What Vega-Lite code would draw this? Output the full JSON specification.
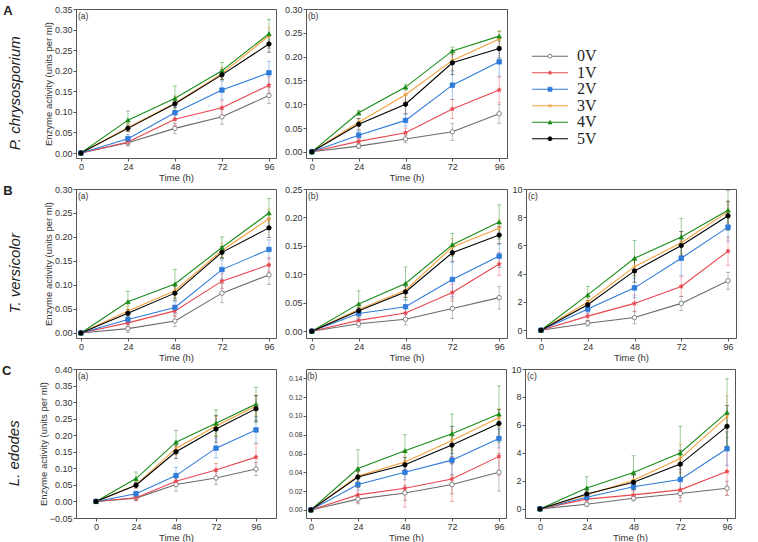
{
"$schema":"https://vega.github.io/schema/vega-lite/v6.json",
"background":"white",
"padding":{"left":1,"top":4,"right":0,"bottom":0},
"config":{
 "view":{"stroke":"#555","strokeWidth":1},
 "axis":{"grid":false,"domain":false,"tickSize":3,"tickColor":"#555","labelFont":"Liberation Sans","labelFontSize":9,"labelColor":"#333","titleFont":"Liberation Sans","titleFontSize":9.5,"titleFontWeight":"normal","titleColor":"#333","labelFlush":false,"labelPadding":1,"titlePadding":1},
 "title":{"font":"Liberation Sans","fontWeight":"normal","color":"#222"}
},
"datasets":{"d":[
{"p":"Aa","s":"0V","t":0,"v":0,"e":0},{"p":"Aa","s":"0V","t":24,"v":0.025,"e":0.008},{"p":"Aa","s":"0V","t":48,"v":0.06,"e":0.012},{"p":"Aa","s":"0V","t":72,"v":0.088,"e":0.018},{"p":"Aa","s":"0V","t":96,"v":0.14,"e":0.02},
{"p":"Aa","s":"1V","t":0,"v":0,"e":0},{"p":"Aa","s":"1V","t":24,"v":0.027,"e":0.008},{"p":"Aa","s":"1V","t":48,"v":0.082,"e":0.015},{"p":"Aa","s":"1V","t":72,"v":0.11,"e":0.018},{"p":"Aa","s":"1V","t":96,"v":0.165,"e":0.02},
{"p":"Aa","s":"2V","t":0,"v":0,"e":0},{"p":"Aa","s":"2V","t":24,"v":0.035,"e":0.01},{"p":"Aa","s":"2V","t":48,"v":0.098,"e":0.015},{"p":"Aa","s":"2V","t":72,"v":0.153,"e":0.022},{"p":"Aa","s":"2V","t":96,"v":0.195,"e":0.028},
{"p":"Aa","s":"3V","t":0,"v":0,"e":0},{"p":"Aa","s":"3V","t":24,"v":0.062,"e":0.01},{"p":"Aa","s":"3V","t":48,"v":0.121,"e":0.018},{"p":"Aa","s":"3V","t":72,"v":0.193,"e":0.015},{"p":"Aa","s":"3V","t":96,"v":0.285,"e":0.02},
{"p":"Aa","s":"4V","t":0,"v":0,"e":0},{"p":"Aa","s":"4V","t":24,"v":0.08,"e":0.022},{"p":"Aa","s":"4V","t":48,"v":0.133,"e":0.03},{"p":"Aa","s":"4V","t":72,"v":0.2,"e":0.02},{"p":"Aa","s":"4V","t":96,"v":0.29,"e":0.035},
{"p":"Aa","s":"5V","t":0,"v":0,"e":0},{"p":"Aa","s":"5V","t":24,"v":0.06,"e":0.008},{"p":"Aa","s":"5V","t":48,"v":0.12,"e":0.01},{"p":"Aa","s":"5V","t":72,"v":0.19,"e":0.012},{"p":"Aa","s":"5V","t":96,"v":0.265,"e":0.02},

{"p":"Ab","s":"0V","t":0,"v":0,"e":0},{"p":"Ab","s":"0V","t":24,"v":0.012,"e":0.005},{"p":"Ab","s":"0V","t":48,"v":0.027,"e":0.008},{"p":"Ab","s":"0V","t":72,"v":0.042,"e":0.018},{"p":"Ab","s":"0V","t":96,"v":0.08,"e":0.02},
{"p":"Ab","s":"1V","t":0,"v":0,"e":0},{"p":"Ab","s":"1V","t":24,"v":0.022,"e":0.006},{"p":"Ab","s":"1V","t":48,"v":0.04,"e":0.01},{"p":"Ab","s":"1V","t":72,"v":0.09,"e":0.02},{"p":"Ab","s":"1V","t":96,"v":0.13,"e":0.027},
{"p":"Ab","s":"2V","t":0,"v":0,"e":0},{"p":"Ab","s":"2V","t":24,"v":0.035,"e":0.008},{"p":"Ab","s":"2V","t":48,"v":0.066,"e":0.012},{"p":"Ab","s":"2V","t":72,"v":0.14,"e":0.03},{"p":"Ab","s":"2V","t":96,"v":0.189,"e":0.03},
{"p":"Ab","s":"3V","t":0,"v":0,"e":0},{"p":"Ab","s":"3V","t":24,"v":0.062,"e":0.008},{"p":"Ab","s":"3V","t":48,"v":0.12,"e":0.012},{"p":"Ab","s":"3V","t":72,"v":0.192,"e":0.02},{"p":"Ab","s":"3V","t":96,"v":0.237,"e":0.018},
{"p":"Ab","s":"4V","t":0,"v":0,"e":0},{"p":"Ab","s":"4V","t":24,"v":0.082,"e":0.005},{"p":"Ab","s":"4V","t":48,"v":0.136,"e":0.006},{"p":"Ab","s":"4V","t":72,"v":0.212,"e":0.008},{"p":"Ab","s":"4V","t":96,"v":0.243,"e":0.01},
{"p":"Ab","s":"5V","t":0,"v":0,"e":0},{"p":"Ab","s":"5V","t":24,"v":0.058,"e":0.012},{"p":"Ab","s":"5V","t":48,"v":0.1,"e":0.02},{"p":"Ab","s":"5V","t":72,"v":0.187,"e":0.025},{"p":"Ab","s":"5V","t":96,"v":0.217,"e":0.02},

{"p":"Ba","s":"0V","t":0,"v":0,"e":0},{"p":"Ba","s":"0V","t":24,"v":0.009,"e":0.008},{"p":"Ba","s":"0V","t":48,"v":0.025,"e":0.012},{"p":"Ba","s":"0V","t":72,"v":0.083,"e":0.02},{"p":"Ba","s":"0V","t":96,"v":0.121,"e":0.02},
{"p":"Ba","s":"1V","t":0,"v":0,"e":0},{"p":"Ba","s":"1V","t":24,"v":0.021,"e":0.008},{"p":"Ba","s":"1V","t":48,"v":0.046,"e":0.012},{"p":"Ba","s":"1V","t":72,"v":0.108,"e":0.015},{"p":"Ba","s":"1V","t":96,"v":0.142,"e":0.015},
{"p":"Ba","s":"2V","t":0,"v":0,"e":0},{"p":"Ba","s":"2V","t":24,"v":0.028,"e":0.008},{"p":"Ba","s":"2V","t":48,"v":0.053,"e":0.012},{"p":"Ba","s":"2V","t":72,"v":0.132,"e":0.02},{"p":"Ba","s":"2V","t":96,"v":0.174,"e":0.02},
{"p":"Ba","s":"3V","t":0,"v":0,"e":0},{"p":"Ba","s":"3V","t":24,"v":0.046,"e":0.01},{"p":"Ba","s":"3V","t":48,"v":0.088,"e":0.015},{"p":"Ba","s":"3V","t":72,"v":0.172,"e":0.015},{"p":"Ba","s":"3V","t":96,"v":0.238,"e":0.02},
{"p":"Ba","s":"4V","t":0,"v":0,"e":0},{"p":"Ba","s":"4V","t":24,"v":0.065,"e":0.022},{"p":"Ba","s":"4V","t":48,"v":0.102,"e":0.03},{"p":"Ba","s":"4V","t":72,"v":0.178,"e":0.022},{"p":"Ba","s":"4V","t":96,"v":0.25,"e":0.03},
{"p":"Ba","s":"5V","t":0,"v":0,"e":0},{"p":"Ba","s":"5V","t":24,"v":0.041,"e":0.008},{"p":"Ba","s":"5V","t":48,"v":0.083,"e":0.015},{"p":"Ba","s":"5V","t":72,"v":0.168,"e":0.012},{"p":"Ba","s":"5V","t":96,"v":0.219,"e":0.02},

{"p":"Bb","s":"0V","t":0,"v":0,"e":0},{"p":"Bb","s":"0V","t":24,"v":0.013,"e":0.006},{"p":"Bb","s":"0V","t":48,"v":0.021,"e":0.01},{"p":"Bb","s":"0V","t":72,"v":0.04,"e":0.018},{"p":"Bb","s":"0V","t":96,"v":0.059,"e":0.02},
{"p":"Bb","s":"1V","t":0,"v":0,"e":0},{"p":"Bb","s":"1V","t":24,"v":0.019,"e":0.008},{"p":"Bb","s":"1V","t":48,"v":0.032,"e":0.01},{"p":"Bb","s":"1V","t":72,"v":0.068,"e":0.015},{"p":"Bb","s":"1V","t":96,"v":0.118,"e":0.02},
{"p":"Bb","s":"2V","t":0,"v":0,"e":0},{"p":"Bb","s":"2V","t":24,"v":0.031,"e":0.008},{"p":"Bb","s":"2V","t":48,"v":0.043,"e":0.012},{"p":"Bb","s":"2V","t":72,"v":0.091,"e":0.03},{"p":"Bb","s":"2V","t":96,"v":0.132,"e":0.02},
{"p":"Bb","s":"3V","t":0,"v":0,"e":0},{"p":"Bb","s":"3V","t":24,"v":0.038,"e":0.008},{"p":"Bb","s":"3V","t":48,"v":0.072,"e":0.012},{"p":"Bb","s":"3V","t":72,"v":0.148,"e":0.015},{"p":"Bb","s":"3V","t":96,"v":0.181,"e":0.015},
{"p":"Bb","s":"4V","t":0,"v":0,"e":0},{"p":"Bb","s":"4V","t":24,"v":0.048,"e":0.023},{"p":"Bb","s":"4V","t":48,"v":0.084,"e":0.029},{"p":"Bb","s":"4V","t":72,"v":0.152,"e":0.02},{"p":"Bb","s":"4V","t":96,"v":0.192,"e":0.03},
{"p":"Bb","s":"5V","t":0,"v":0,"e":0},{"p":"Bb","s":"5V","t":24,"v":0.036,"e":0.006},{"p":"Bb","s":"5V","t":48,"v":0.069,"e":0.01},{"p":"Bb","s":"5V","t":72,"v":0.138,"e":0.015},{"p":"Bb","s":"5V","t":96,"v":0.169,"e":0.015},

{"p":"Bc","s":"0V","t":0,"v":0,"e":0},{"p":"Bc","s":"0V","t":24,"v":0.5,"e":0.2},{"p":"Bc","s":"0V","t":48,"v":0.9,"e":0.45},{"p":"Bc","s":"0V","t":72,"v":1.9,"e":0.5},{"p":"Bc","s":"0V","t":96,"v":3.5,"e":0.6},
{"p":"Bc","s":"1V","t":0,"v":0,"e":0},{"p":"Bc","s":"1V","t":24,"v":1.0,"e":0.3},{"p":"Bc","s":"1V","t":48,"v":1.9,"e":0.6},{"p":"Bc","s":"1V","t":72,"v":3.1,"e":0.7},{"p":"Bc","s":"1V","t":96,"v":5.6,"e":1.0},
{"p":"Bc","s":"2V","t":0,"v":0,"e":0},{"p":"Bc","s":"2V","t":24,"v":1.5,"e":0.3},{"p":"Bc","s":"2V","t":48,"v":3.0,"e":0.7},{"p":"Bc","s":"2V","t":72,"v":5.1,"e":1.2},{"p":"Bc","s":"2V","t":96,"v":7.3,"e":1.0},
{"p":"Bc","s":"3V","t":0,"v":0,"e":0},{"p":"Bc","s":"3V","t":24,"v":2.0,"e":0.3},{"p":"Bc","s":"3V","t":48,"v":4.5,"e":0.6},{"p":"Bc","s":"3V","t":72,"v":6.2,"e":0.8},{"p":"Bc","s":"3V","t":96,"v":8.4,"e":0.8},
{"p":"Bc","s":"4V","t":0,"v":0,"e":0},{"p":"Bc","s":"4V","t":24,"v":2.5,"e":0.6},{"p":"Bc","s":"4V","t":48,"v":5.1,"e":1.25},{"p":"Bc","s":"4V","t":72,"v":6.6,"e":1.3},{"p":"Bc","s":"4V","t":96,"v":8.5,"e":1.4},
{"p":"Bc","s":"5V","t":0,"v":0,"e":0},{"p":"Bc","s":"5V","t":24,"v":1.8,"e":0.3},{"p":"Bc","s":"5V","t":48,"v":4.2,"e":0.8},{"p":"Bc","s":"5V","t":72,"v":6.0,"e":1.0},{"p":"Bc","s":"5V","t":96,"v":8.1,"e":1.0},

{"p":"Ca","s":"0V","t":0,"v":0,"e":0},{"p":"Ca","s":"0V","t":24,"v":0.01,"e":0.008},{"p":"Ca","s":"0V","t":48,"v":0.051,"e":0.02},{"p":"Ca","s":"0V","t":72,"v":0.071,"e":0.02},{"p":"Ca","s":"0V","t":96,"v":0.098,"e":0.02},
{"p":"Ca","s":"1V","t":0,"v":0,"e":0},{"p":"Ca","s":"1V","t":24,"v":0.011,"e":0.008},{"p":"Ca","s":"1V","t":48,"v":0.061,"e":0.015},{"p":"Ca","s":"1V","t":72,"v":0.095,"e":0.02},{"p":"Ca","s":"1V","t":96,"v":0.134,"e":0.04},
{"p":"Ca","s":"2V","t":0,"v":0,"e":0},{"p":"Ca","s":"2V","t":24,"v":0.023,"e":0.008},{"p":"Ca","s":"2V","t":48,"v":0.078,"e":0.025},{"p":"Ca","s":"2V","t":72,"v":0.161,"e":0.03},{"p":"Ca","s":"2V","t":96,"v":0.216,"e":0.04},
{"p":"Ca","s":"3V","t":0,"v":0,"e":0},{"p":"Ca","s":"3V","t":24,"v":0.05,"e":0.01},{"p":"Ca","s":"3V","t":48,"v":0.16,"e":0.02},{"p":"Ca","s":"3V","t":72,"v":0.228,"e":0.03},{"p":"Ca","s":"3V","t":96,"v":0.288,"e":0.03},
{"p":"Ca","s":"4V","t":0,"v":0,"e":0},{"p":"Ca","s":"4V","t":24,"v":0.069,"e":0.02},{"p":"Ca","s":"4V","t":48,"v":0.179,"e":0.035},{"p":"Ca","s":"4V","t":72,"v":0.236,"e":0.04},{"p":"Ca","s":"4V","t":96,"v":0.294,"e":0.05},
{"p":"Ca","s":"5V","t":0,"v":0,"e":0},{"p":"Ca","s":"5V","t":24,"v":0.049,"e":0.008},{"p":"Ca","s":"5V","t":48,"v":0.15,"e":0.02},{"p":"Ca","s":"5V","t":72,"v":0.219,"e":0.04},{"p":"Ca","s":"5V","t":96,"v":0.28,"e":0.04},

{"p":"Cb","s":"0V","t":0,"v":0,"e":0},{"p":"Cb","s":"0V","t":24,"v":0.0115,"e":0.005},{"p":"Cb","s":"0V","t":48,"v":0.018,"e":0.008},{"p":"Cb","s":"0V","t":72,"v":0.027,"e":0.01},{"p":"Cb","s":"0V","t":96,"v":0.04,"e":0.02},
{"p":"Cb","s":"1V","t":0,"v":0,"e":0},{"p":"Cb","s":"1V","t":24,"v":0.016,"e":0.008},{"p":"Cb","s":"1V","t":48,"v":0.023,"e":0.02},{"p":"Cb","s":"1V","t":72,"v":0.033,"e":0.024},{"p":"Cb","s":"1V","t":96,"v":0.057,"e":0.02},
{"p":"Cb","s":"2V","t":0,"v":0,"e":0},{"p":"Cb","s":"2V","t":24,"v":0.027,"e":0.006},{"p":"Cb","s":"2V","t":48,"v":0.04,"e":0.008},{"p":"Cb","s":"2V","t":72,"v":0.053,"e":0.015},{"p":"Cb","s":"2V","t":96,"v":0.076,"e":0.01},
{"p":"Cb","s":"3V","t":0,"v":0,"e":0},{"p":"Cb","s":"3V","t":24,"v":0.036,"e":0.006},{"p":"Cb","s":"3V","t":48,"v":0.051,"e":0.01},{"p":"Cb","s":"3V","t":72,"v":0.074,"e":0.01},{"p":"Cb","s":"3V","t":96,"v":0.098,"e":0.01},
{"p":"Cb","s":"4V","t":0,"v":0,"e":0},{"p":"Cb","s":"4V","t":24,"v":0.044,"e":0.02},{"p":"Cb","s":"4V","t":48,"v":0.063,"e":0.017},{"p":"Cb","s":"4V","t":72,"v":0.081,"e":0.021},{"p":"Cb","s":"4V","t":96,"v":0.102,"e":0.03},
{"p":"Cb","s":"5V","t":0,"v":0,"e":0},{"p":"Cb","s":"5V","t":24,"v":0.035,"e":0.006},{"p":"Cb","s":"5V","t":48,"v":0.048,"e":0.008},{"p":"Cb","s":"5V","t":72,"v":0.069,"e":0.02},{"p":"Cb","s":"5V","t":96,"v":0.092,"e":0.015},

{"p":"Cc","s":"0V","t":0,"v":0,"e":0},{"p":"Cc","s":"0V","t":24,"v":0.33,"e":0.15},{"p":"Cc","s":"0V","t":48,"v":0.76,"e":0.2},{"p":"Cc","s":"0V","t":72,"v":1.1,"e":0.3},{"p":"Cc","s":"0V","t":96,"v":1.48,"e":0.5},
{"p":"Cc","s":"1V","t":0,"v":0,"e":0},{"p":"Cc","s":"1V","t":24,"v":0.7,"e":0.2},{"p":"Cc","s":"1V","t":48,"v":1.0,"e":0.3},{"p":"Cc","s":"1V","t":72,"v":1.36,"e":0.85},{"p":"Cc","s":"1V","t":96,"v":2.67,"e":1.7},
{"p":"Cc","s":"2V","t":0,"v":0,"e":0},{"p":"Cc","s":"2V","t":24,"v":0.83,"e":0.2},{"p":"Cc","s":"2V","t":48,"v":1.58,"e":0.3},{"p":"Cc","s":"2V","t":72,"v":2.1,"e":0.7},{"p":"Cc","s":"2V","t":96,"v":4.3,"e":1.2},
{"p":"Cc","s":"3V","t":0,"v":0,"e":0},{"p":"Cc","s":"3V","t":24,"v":1.0,"e":0.3},{"p":"Cc","s":"3V","t":48,"v":2.05,"e":0.5},{"p":"Cc","s":"3V","t":72,"v":3.6,"e":1.0},{"p":"Cc","s":"3V","t":96,"v":6.6,"e":1.5},
{"p":"Cc","s":"4V","t":0,"v":0,"e":0},{"p":"Cc","s":"4V","t":24,"v":1.5,"e":0.8},{"p":"Cc","s":"4V","t":48,"v":2.6,"e":1.2},{"p":"Cc","s":"4V","t":72,"v":4.0,"e":1.9},{"p":"Cc","s":"4V","t":96,"v":6.9,"e":2.4},
{"p":"Cc","s":"5V","t":0,"v":0,"e":0},{"p":"Cc","s":"5V","t":24,"v":1.07,"e":0.3},{"p":"Cc","s":"5V","t":48,"v":1.9,"e":0.5},{"p":"Cc","s":"5V","t":72,"v":3.2,"e":1.0},{"p":"Cc","s":"5V","t":96,"v":5.9,"e":1.5}
]},
"spacing":2,
"vconcat":[
{"title":{"text":"A","orient":"left","anchor":"end","angle":0,"align":"right","baseline":"top","fontSize":13,"fontWeight":"bold","offset":-14},
 "spacing":6,
 "hconcat":[
  {"title":{"text":"P. chrysosporium","orient":"left","anchor":"middle","align":"center","fontStyle":"italic","fontSize":15,"offset":20},"hconcat":[
   {"width":200,"height":149,"data":{"name":"d"},"transform":[{"filter":"datum.p=='Aa'"}],
    "encoding":{"x":{"field":"t","type":"quantitative","scale":{"domain":[-2.5,99.6],"nice":false,"zero":false},"axis":{"values":[0,24,48,72,96],"title":"Time (h)"}},
     "y":{"field":"v","type":"quantitative","scale":{"domain":[-0.012,0.35],"nice":false,"zero":false},"axis":{"values":[0,0.05,0.1,0.15,0.2,0.25,0.3,0.35],"format":".2f","title":"Enzyme activity (units per ml)"}}},
    "layer":[
     {"mark":{"type":"errorbar","ticks":true,"size":4,"thickness":0.8,"opacity":0.55},"encoding":{"yError":{"field":"e"},"color":{"field":"s","type":"nominal","scale":{"domain":["0V","1V","2V","3V","4V","5V"],"range":["#6b6b6b","#e8474f","#2f7bd9","#f5a03c","#1a8c1a","#000000"]},"legend":null}}},
     {"mark":{"type":"line","strokeWidth":1.1},"encoding":{"stroke":{"field":"s","type":"nominal","scale":{"domain":["0V","1V","2V","3V","4V","5V"],"range":["#6b6b6b","#e8474f","#2f7bd9","#f5a03c","#1a8c1a","#000000"]},"legend":null}}},
     {"mark":{"type":"point","filled":true,"size":20,"strokeWidth":0.8,"opacity":1},"encoding":{
       "stroke":{"field":"s","type":"nominal","legend":null},
       "fill":{"field":"s","type":"nominal","scale":{"domain":["0V","1V","2V","3V","4V","5V"],"range":["#ffffff","#e8474f","#2f7bd9","#f5a03c","#1a8c1a","#000000"]},"legend":null},
       "shape":{"field":"s","type":"nominal","scale":{"domain":["0V","1V","2V","3V","4V","5V"],"range":["circle","M0,-1L0.22,-0.31L0.95,-0.31L0.36,0.12L0.59,0.81L0,0.38L-0.59,0.81L-0.36,0.12L-0.95,-0.31L-0.22,-0.31Z","square","M0,-1L0,1M-0.87,-0.5L0.87,0.5M-0.87,0.5L0.87,-0.5","triangle-up","circle"]},"legend":null}}},
     {"transform":[{"filter":"datum.s=='0V' && datum.t==0"}],"mark":{"type":"text","align":"left","baseline":"top","dx":2,"dy":3,"fontSize":8.5,"font":"Liberation Sans","color":"#333"},"encoding":{"x":{"datum":-2.5},"y":{"datum":0.35},"text":{"value":"(a)"}}}
    ]}
  ]},
  {"width":201,"height":149,"data":{"name":"d"},"transform":[{"filter":"datum.p=='Ab'"}],
    "encoding":{"x":{"field":"t","type":"quantitative","scale":{"domain":[-3,100],"nice":false,"zero":false},"axis":{"values":[0,24,48,72,96],"title":"Time (h)"}},
     "y":{"field":"v","type":"quantitative","scale":{"domain":[-0.013,0.3],"nice":false,"zero":false},"axis":{"values":[0,0.05,0.1,0.15,0.2,0.25,0.3],"format":".2f","title":null}}},
    "layer":[
     {"mark":{"type":"errorbar","ticks":true,"size":4,"thickness":0.8,"opacity":0.55},"encoding":{"yError":{"field":"e"},"color":{"field":"s","type":"nominal","legend":null}}},
     {"mark":{"type":"line","strokeWidth":1.1},"encoding":{"stroke":{"field":"s","type":"nominal","legend":null}}},
     {"mark":{"type":"point","filled":true,"size":20,"strokeWidth":0.8,"opacity":1},"encoding":{"stroke":{"field":"s","type":"nominal","legend":null},"fill":{"field":"s","type":"nominal","legend":null},"shape":{"field":"s","type":"nominal","legend":null}}},
     {"transform":[{"filter":"datum.s=='0V' && datum.t==0"}],"mark":{"type":"text","align":"left","baseline":"top","dx":2,"dy":3,"fontSize":8.5,"font":"Liberation Sans","color":"#333"},"encoding":{"x":{"datum":-3},"y":{"datum":0.3},"text":{"value":"(b)"}}}
    ]},
  {"width":100,"height":149,"view":{"stroke":null},
   "data":{"values":[{"s":"0V"},{"s":"1V"},{"s":"2V"},{"s":"3V"},{"s":"4V"},{"s":"5V"}]},
   "encoding":{"y":{"field":"s","type":"ordinal","scale":{"type":"point","range":[39,138]},"axis":null}},
   "layer":[
    {"mark":{"type":"rule","strokeWidth":1.1},"encoding":{"x":{"datum":0.18,"type":"quantitative","scale":{"domain":[0,1],"nice":false,"zero":false},"axis":null},"x2":{"datum":0.54},"stroke":{"field":"s","type":"nominal","legend":null}}},
    {"mark":{"type":"point","filled":true,"size":16,"strokeWidth":0.8,"opacity":1},"encoding":{"x":{"datum":0.36,"type":"quantitative"},"stroke":{"field":"s","type":"nominal","legend":null},"fill":{"field":"s","type":"nominal","legend":null},"shape":{"field":"s","type":"nominal","legend":null}}},
    {"mark":{"type":"text","align":"left","baseline":"middle","font":"Liberation Serif","fontSize":16,"color":"#222"},"encoding":{"x":{"datum":0.63,"type":"quantitative"},"text":{"field":"s"}}}
   ]}
 ]},
{"title":{"text":"B","orient":"left","anchor":"end","angle":0,"align":"right","baseline":"top","fontSize":13,"fontWeight":"bold","offset":-14},
 "spacing":6,
 "hconcat":[
  {"title":{"text":"T. versicolor","orient":"left","anchor":"middle","align":"center","fontStyle":"italic","fontSize":15,"offset":20},"hconcat":[
   {"width":200,"height":149,"data":{"name":"d"},"transform":[{"filter":"datum.p=='Ba'"}],
    "encoding":{"x":{"field":"t","type":"quantitative","scale":{"domain":[-2.5,99.6],"nice":false,"zero":false},"axis":{"values":[0,24,48,72,96],"title":"Time (h)"}},
     "y":{"field":"v","type":"quantitative","scale":{"domain":[-0.0105,0.3],"nice":false,"zero":false},"axis":{"values":[0,0.05,0.1,0.15,0.2,0.25,0.3],"format":".2f","title":"Enzyme activity (units per ml)"}}},
    "layer":[
     {"mark":{"type":"errorbar","ticks":true,"size":4,"thickness":0.8,"opacity":0.55},"encoding":{"yError":{"field":"e"},"color":{"field":"s","type":"nominal","legend":null}}},
     {"mark":{"type":"line","strokeWidth":1.1},"encoding":{"stroke":{"field":"s","type":"nominal","legend":null}}},
     {"mark":{"type":"point","filled":true,"size":20,"strokeWidth":0.8,"opacity":1},"encoding":{"stroke":{"field":"s","type":"nominal","legend":null},"fill":{"field":"s","type":"nominal","legend":null},"shape":{"field":"s","type":"nominal","legend":null}}},
     {"transform":[{"filter":"datum.s=='0V' && datum.t==0"}],"mark":{"type":"text","align":"left","baseline":"top","dx":2,"dy":3,"fontSize":8.5,"font":"Liberation Sans","color":"#333"},"encoding":{"x":{"datum":-2.5},"y":{"datum":0.3},"text":{"value":"(a)"}}}
    ]}
  ]},
  {"spacing":3,"hconcat":[
   {"width":201,"height":149,"data":{"name":"d"},"transform":[{"filter":"datum.p=='Bb'"}],
    "encoding":{"x":{"field":"t","type":"quantitative","scale":{"domain":[-3,100],"nice":false,"zero":false},"axis":{"values":[0,24,48,72,96],"title":"Time (h)"}},
     "y":{"field":"v","type":"quantitative","scale":{"domain":[-0.012,0.25],"nice":false,"zero":false},"axis":{"values":[0,0.05,0.1,0.15,0.2,0.25],"format":".2f","title":null}}},
    "layer":[
     {"mark":{"type":"errorbar","ticks":true,"size":4,"thickness":0.8,"opacity":0.55},"encoding":{"yError":{"field":"e"},"color":{"field":"s","type":"nominal","legend":null}}},
     {"mark":{"type":"line","strokeWidth":1.1},"encoding":{"stroke":{"field":"s","type":"nominal","legend":null}}},
     {"mark":{"type":"point","filled":true,"size":20,"strokeWidth":0.8,"opacity":1},"encoding":{"stroke":{"field":"s","type":"nominal","legend":null},"fill":{"field":"s","type":"nominal","legend":null},"shape":{"field":"s","type":"nominal","legend":null}}},
     {"transform":[{"filter":"datum.s=='0V' && datum.t==0"}],"mark":{"type":"text","align":"left","baseline":"top","dx":2,"dy":3,"fontSize":8.5,"font":"Liberation Sans","color":"#333"},"encoding":{"x":{"datum":-3},"y":{"datum":0.25},"text":{"value":"(b)"}}}
    ]},
   {"width":210,"height":149,"data":{"name":"d"},"transform":[{"filter":"datum.p=='Bc'"}],
    "encoding":{"x":{"field":"t","type":"quantitative","scale":{"domain":[-7.7,100.1],"nice":false,"zero":false},"axis":{"values":[0,24,48,72,96],"title":"Time (h)"}},
     "y":{"field":"v","type":"quantitative","scale":{"domain":[-0.55,10],"nice":false,"zero":false},"axis":{"values":[0,2,4,6,8,10],"format":"d","title":null}}},
    "layer":[
     {"mark":{"type":"errorbar","ticks":true,"size":4,"thickness":0.8,"opacity":0.55},"encoding":{"yError":{"field":"e"},"color":{"field":"s","type":"nominal","legend":null}}},
     {"mark":{"type":"line","strokeWidth":1.1},"encoding":{"stroke":{"field":"s","type":"nominal","legend":null}}},
     {"mark":{"type":"point","filled":true,"size":20,"strokeWidth":0.8,"opacity":1},"encoding":{"stroke":{"field":"s","type":"nominal","legend":null},"fill":{"field":"s","type":"nominal","legend":null},"shape":{"field":"s","type":"nominal","legend":null}}},
     {"transform":[{"filter":"datum.s=='0V' && datum.t==0"}],"mark":{"type":"text","align":"left","baseline":"top","dx":2,"dy":3,"fontSize":8.5,"font":"Liberation Sans","color":"#333"},"encoding":{"x":{"datum":-7.7},"y":{"datum":10},"text":{"value":"(c)"}}}
    ]}
  ]}
 ]},
{"title":{"text":"C","orient":"left","anchor":"end","angle":0,"align":"right","baseline":"top","fontSize":13,"fontWeight":"bold","offset":-14},
 "spacing":10,
 "hconcat":[
  {"title":{"text":"L. edodes","orient":"left","anchor":"middle","align":"center","fontStyle":"italic","fontSize":15,"offset":16},"hconcat":[
   {"width":200,"height":149,"data":{"name":"d"},"transform":[{"filter":"datum.p=='Ca'"}],
    "encoding":{"x":{"field":"t","type":"quantitative","scale":{"domain":[-12,108],"nice":false,"zero":false},"axis":{"values":[0,24,48,72,96],"title":"Time (h)"}},
     "y":{"field":"v","type":"quantitative","scale":{"domain":[-0.05,0.4],"nice":false,"zero":false},"axis":{"values":[-0.05,0,0.05,0.1,0.15,0.2,0.25,0.3,0.35,0.4],"format":".2f","title":"Enzyme activity (units per ml)"}}},
    "layer":[
     {"mark":{"type":"errorbar","ticks":true,"size":4,"thickness":0.8,"opacity":0.55},"encoding":{"yError":{"field":"e"},"color":{"field":"s","type":"nominal","legend":null}}},
     {"mark":{"type":"line","strokeWidth":1.1},"encoding":{"stroke":{"field":"s","type":"nominal","legend":null}}},
     {"mark":{"type":"point","filled":true,"size":20,"strokeWidth":0.8,"opacity":1},"encoding":{"stroke":{"field":"s","type":"nominal","legend":null},"fill":{"field":"s","type":"nominal","legend":null},"shape":{"field":"s","type":"nominal","legend":null}}},
     {"transform":[{"filter":"datum.s=='0V' && datum.t==0"}],"mark":{"type":"text","align":"left","baseline":"top","dx":2,"dy":3,"fontSize":8.5,"font":"Liberation Sans","color":"#333"},"encoding":{"x":{"datum":-12},"y":{"datum":0.4},"text":{"value":"(a)"}}}
    ]}
  ]},
  {"spacing":3,"hconcat":[
   {"width":200,"height":149,"data":{"name":"d"},"transform":[{"filter":"datum.p=='Cb'"}],
    "encoding":{"x":{"field":"t","type":"quantitative","scale":{"domain":[-2.5,99.6],"nice":false,"zero":false},"axis":{"values":[0,24,48,72,96],"title":"Time (h)"}},
     "y":{"field":"v","type":"quantitative","scale":{"domain":[-0.0086,0.15],"nice":false,"zero":false},"axis":{"values":[0,0.02,0.04,0.06,0.08,0.1,0.12,0.14],"format":".2f","title":null,"labelFontSize":7}}},
    "layer":[
     {"mark":{"type":"errorbar","ticks":true,"size":4,"thickness":0.8,"opacity":0.55},"encoding":{"yError":{"field":"e"},"color":{"field":"s","type":"nominal","legend":null}}},
     {"mark":{"type":"line","strokeWidth":1.1},"encoding":{"stroke":{"field":"s","type":"nominal","legend":null}}},
     {"mark":{"type":"point","filled":true,"size":20,"strokeWidth":0.8,"opacity":1},"encoding":{"stroke":{"field":"s","type":"nominal","legend":null},"fill":{"field":"s","type":"nominal","legend":null},"shape":{"field":"s","type":"nominal","legend":null}}},
     {"transform":[{"filter":"datum.s=='0V' && datum.t==0"}],"mark":{"type":"text","align":"left","baseline":"top","dx":1,"dy":3,"fontSize":8.5,"font":"Liberation Sans","color":"#333"},"encoding":{"x":{"datum":-2.5},"y":{"datum":0.15},"text":{"value":"(b)"}}}
    ]},
   {"width":210,"height":149,"data":{"name":"d"},"transform":[{"filter":"datum.p=='Cc'"}],
    "encoding":{"x":{"field":"t","type":"quantitative","scale":{"domain":[-7.7,100.1],"nice":false,"zero":false},"axis":{"values":[0,24,48,72,96],"title":"Time (h)"}},
     "y":{"field":"v","type":"quantitative","scale":{"domain":[-0.65,10],"nice":false,"zero":false},"axis":{"values":[0,2,4,6,8,10],"format":"d","title":null}}},
    "layer":[
     {"mark":{"type":"errorbar","ticks":true,"size":4,"thickness":0.8,"opacity":0.55},"encoding":{"yError":{"field":"e"},"color":{"field":"s","type":"nominal","legend":null}}},
     {"mark":{"type":"line","strokeWidth":1.1},"encoding":{"stroke":{"field":"s","type":"nominal","legend":null}}},
     {"mark":{"type":"point","filled":true,"size":20,"strokeWidth":0.8,"opacity":1},"encoding":{"stroke":{"field":"s","type":"nominal","legend":null},"fill":{"field":"s","type":"nominal","legend":null},"shape":{"field":"s","type":"nominal","legend":null}}},
     {"transform":[{"filter":"datum.s=='0V' && datum.t==0"}],"mark":{"type":"text","align":"left","baseline":"top","dx":2,"dy":3,"fontSize":8.5,"font":"Liberation Sans","color":"#333"},"encoding":{"x":{"datum":-7.7},"y":{"datum":10},"text":{"value":"(c)"}}}
    ]}
  ]}
 ]}
]
}
